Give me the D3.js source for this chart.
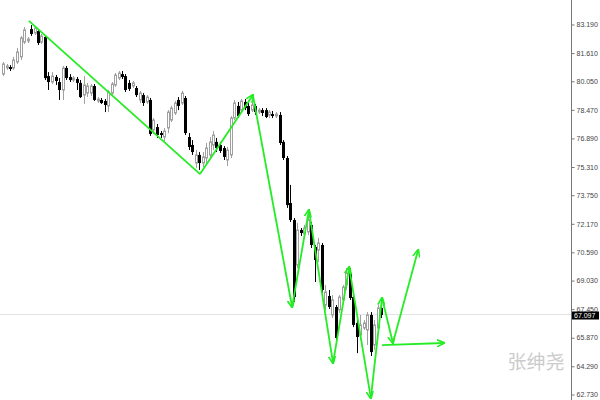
<!DOCTYPE html>
<html>
<head>
<meta charset="utf-8">
<script src="https://cdn.jsdelivr.net/npm/d3@7"></script>
<style>
  html, body { margin: 0; padding: 0; background: #fff; }
  svg { display: block; }
</style>
</head>
<body>
<div class="chart"></div>
<script>
// candle data (price), one entry per bar
const opens = [80.42,80.76,80.81,80.76,81.09,81.37,82.19,82.25,82.91,82.69,82.80,82.19,82.47,80.31,79.98,80.26,79.98,79.54,80.76,80.26,
  80.09,80.15,79.93,79.26,79.37,79.37,79.76,78.93,78.99,78.93,78.66,79.37,79.82,80.20,80.42,80.31,79.93,79.76,79.65,78.99,
  79.26,78.88,78.99,77.33,77.49,77.16,76.94,77.44,77.88,78.27,78.99,78.82,79.10,76.94,76.50,75.50,75.95,75.50,75.78,75.95,
  76.50,76.67,76.50,76.33,75.67,75.95,77.99,78.66,78.43,78.88,78.66,78.43,78.66,78.32,78.43,78.43,78.16,78.21,78.10,78.16,
  76.67,75.78,73.29,72.35,69.86,71.80,71.58,71.69,72.08,70.86,70.69,70.97,67.65,68.15,67.10,67.54,67.38,67.93,68.76,69.42,
  68.09,66.66,65.99,66.38,66.27,67.10,65.44,66.38,67.49]
const highs = [81.09,80.98,80.92,81.37,81.86,82.53,83.02,82.47,83.13,83.08,82.91,82.64,82.53,80.53,80.53,80.37,80.20,80.87,80.87,80.42,
  80.31,80.26,80.09,80.31,79.93,79.87,79.87,79.15,79.10,79.04,79.54,79.98,80.48,80.59,80.59,80.42,80.09,80.04,79.76,79.49,
  79.37,79.26,79.10,77.99,77.66,77.27,77.44,78.43,78.66,78.93,79.15,79.49,79.21,77.16,76.77,76.22,76.11,76.11,76.61,76.94,
  77.27,76.89,76.67,76.44,76.39,78.10,78.99,78.88,79.04,79.04,78.82,79.21,78.77,78.54,78.54,78.54,78.43,78.38,78.32,78.32,
  76.77,75.89,74.29,72.46,72.19,71.91,72.08,72.57,72.24,70.97,71.36,71.08,68.76,68.48,68.20,67.65,68.20,68.76,69.70,69.70,
  68.20,66.82,67.10,66.82,67.26,67.26,66.82,67.65,67.65]
const lows = [80.31,80.65,80.59,80.65,80.98,81.20,82.08,82.14,82.53,82.58,82.03,82.08,80.09,79.54,79.87,79.82,78.99,78.99,80.09,79.98,
  79.98,79.54,79.10,78.77,79.15,79.21,78.93,78.82,78.77,78.32,78.32,79.26,79.71,80.09,80.15,79.43,79.49,79.65,79.15,78.82,
  78.66,78.77,77.00,77.11,76.89,76.89,76.72,77.16,77.77,78.16,78.43,78.71,77.05,76.22,75.95,75.23,75.12,75.28,75.50,75.78,
  76.22,76.11,76.06,75.67,75.34,75.78,77.88,77.99,78.32,78.43,78.10,78.32,78.16,78.21,78.10,77.99,77.99,77.99,77.99,76.50,
  75.67,73.02,72.24,67.82,69.70,71.47,71.47,71.52,70.80,68.92,70.03,68.32,67.38,67.43,66.93,65.71,67.21,67.76,68.48,67.93,
  66.43,64.99,65.71,66.27,65.44,64.83,65.16,66.27,66.93]
const closes = [80.98,80.87,80.70,81.20,81.64,82.42,82.86,82.36,82.64,82.97,82.14,82.53,80.20,79.98,80.31,80.04,79.54,80.76,80.20,80.09,
  80.20,79.93,79.15,79.82,79.76,79.76,78.99,79.04,78.82,78.71,79.43,79.87,80.37,80.48,80.26,79.54,79.60,79.93,79.26,79.37,
  78.82,79.15,77.11,77.88,77.05,77.05,77.27,78.32,78.54,78.82,78.66,79.37,77.16,76.39,76.11,75.95,75.50,75.84,76.33,76.67,
  77.05,76.33,76.17,75.84,76.22,77.99,78.82,78.10,78.93,78.54,78.21,78.71,78.32,78.43,78.27,78.05,78.32,78.10,78.21,76.61,
  75.78,73.18,72.35,68.09,71.80,71.63,71.91,72.35,70.97,70.14,71.08,68.48,68.37,67.54,67.93,65.83,68.09,68.65,69.42,68.04,
  66.55,65.88,66.55,66.66,67.10,65.05,66.55,67.49,67.10]

// price axis labels
const tickVals = [83.19,81.61,80.05,78.47,76.89,75.31,73.75,72.17,70.59,69.03,67.45,65.87,64.29,62.73]
const lastPrice = 67.097

// hand-drawn green zigzag (bar index, price)
const zigIdx = [7.4, 56.3, 71.4, 82.6, 87.4, 94.3, 98.9, 105.1, 108.3, 111.4, 118.6]
const zigPrice = [83.36, 74.89, 79.26, 67.54, 72.90, 64.44, 69.75, 62.50, 68.04, 65.55, 70.69]
const flatIdx = [108.3, 126]
const flatPrice = [65.43, 65.55]

const width = 600
const height = 400
const axisX = 571

const svg = d3.select(".chart").append("svg")
    .attr("width", width)
    .attr("height", height)
    .attr("viewBox", [0, 0, width, height])

const x = d3.scaleLinear().domain([0, opens.length - 1]).range([3, 381])
const y = d3.scaleLinear().domain([62.73, 83.19]).range([394, 24])

const bars = opens.map((o, i) => ({i, o, h: highs[i], l: lows[i], c: closes[i]}))

// current price line
const lastY = Math.round(y(lastPrice)) - 1
svg.append("line")
    .attr("x1", 0).attr("x2", axisX)
    .attr("y1", lastY + 0.5).attr("y2", lastY + 0.5)
    .attr("stroke", "#e2e2e2")

// candles
const candle = svg.append("g")
    .selectAll("g")
    .data(bars)
    .join("g")
    .attr("transform", d => `translate(${Math.round(x(d.i))},0)`)

candle.append("line")
    .attr("x1", 0.5).attr("x2", 0.5)
    .attr("y1", d => y(d.h)).attr("y2", d => y(d.l))
    .attr("stroke", d => d.c >= d.o ? "#a0a0a0" : "#000")

candle.filter(d => d.c < d.o).append("rect")
    .attr("x", -1).attr("width", 3)
    .attr("y", d => y(d.o))
    .attr("height", d => Math.max(1, y(d.c) - y(d.o)))
    .attr("fill", "#000")

candle.filter(d => d.c >= d.o).append("rect")
    .attr("x", -0.5).attr("width", 2)
    .attr("y", d => y(d.c))
    .attr("height", d => Math.max(0.5, y(d.o) - y(d.c)))
    .attr("fill", "#fff")
    .attr("stroke", "#a0a0a0")

// watermark
svg.append("text")
    .attr("x", 536).attr("y", 369)
    .attr("text-anchor", "middle")
    .attr("font-family", "Noto Sans CJK SC")
    .attr("font-size", 19)
    .attr("fill", "#cbcbcb")
    .text("张绅尧")

// green arrows
const green = "#25ec25"
svg.append("defs").append("marker")
    .attr("id", "arrow")
    .attr("viewBox", "0 -4 8 8")
    .attr("refX", 7).attr("refY", 0)
    .attr("markerWidth", 8).attr("markerHeight", 8)
    .attr("markerUnits", "userSpaceOnUse")
    .attr("orient", "auto")
  .append("path")
    .attr("d", "M0,-3.5L8,0L0,3.5")
    .attr("fill", "none")
    .attr("stroke", green)
    .attr("stroke-width", 1.6)

const segs = d3.range(zigIdx.length - 1).map(k => [k, k + 1])
svg.append("g")
    .selectAll("line")
    .data(segs)
    .join("line")
    .attr("x1", d => x(zigIdx[d[0]])).attr("y1", d => y(zigPrice[d[0]]))
    .attr("x2", d => x(zigIdx[d[1]])).attr("y2", d => y(zigPrice[d[1]]))
    .attr("stroke", green)
    .attr("stroke-width", 1.8)
    .attr("marker-end", (d, k) => k > 0 ? "url(#arrow)" : null)

svg.append("line")
    .attr("x1", x(flatIdx[0])).attr("y1", y(flatPrice[0]))
    .attr("x2", x(flatIdx[1])).attr("y2", y(flatPrice[1]))
    .attr("stroke", green)
    .attr("stroke-width", 1.8)
    .attr("marker-end", "url(#arrow)")

// price axis
svg.append("line")
    .attr("x1", axisX + 0.5).attr("x2", axisX + 0.5)
    .attr("y1", 0).attr("y2", height)
    .attr("stroke", "#777")

const axis = svg.append("g")
    .attr("transform", `translate(${axisX + 0.5},0.5)`)
    .call(d3.axisRight(y).tickValues(tickVals).tickSize(3).tickSizeOuter(0).tickPadding(2).tickFormat(d3.format(".3f")))
axis.select(".domain").remove()
axis.selectAll(".tick line").attr("stroke", "#777")
axis.selectAll(".tick text")
    .attr("font-family", "Liberation Sans, Arial, sans-serif")
    .attr("font-size", 7)
    .attr("fill", "#444")

// last price tag
svg.append("rect")
    .attr("x", axisX + 1).attr("y", lastY - 2.5)
    .attr("width", 27).attr("height", 8)
    .attr("fill", "#000")
svg.append("text")
    .attr("x", axisX + 3).attr("y", lastY + 1.5)
    .attr("dy", "0.32em")
    .attr("font-family", "Liberation Sans, Arial, sans-serif")
    .attr("font-size", 7)
    .attr("fill", "#fff")
    .text(d3.format(".3f")(lastPrice))
</script>
</body>
</html>
